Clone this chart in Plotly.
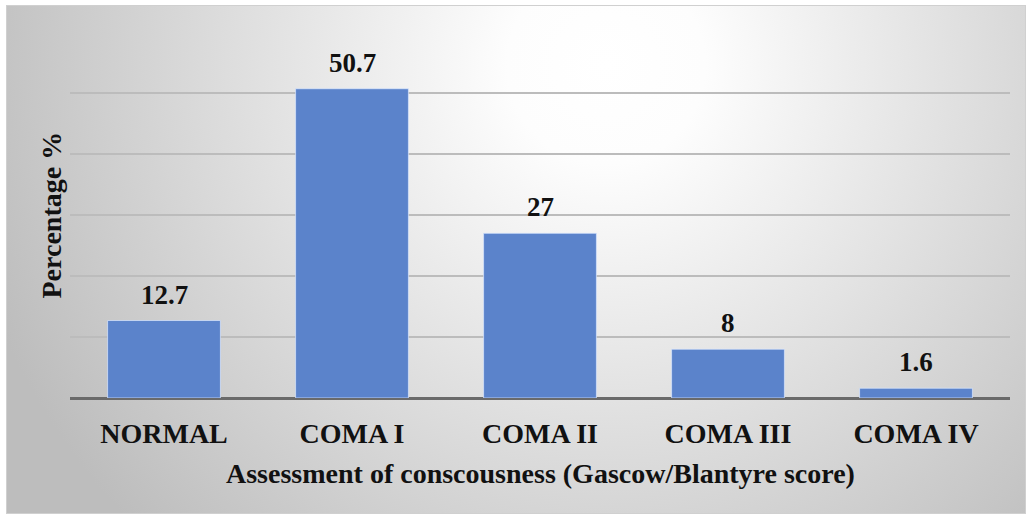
import base64
import plotly.graph_objects as go

categories = ["NORMAL", "COMA I", "COMA II", "COMA III", "COMA IV"]
percentages = [12.7, 50.7, 27, 8, 1.6]
value_labels = ["12.7", "50.7", "27", "8", "1.6"]
x_title = "Assessment of conscousness (Gascow/Blantyre score)"
y_title = "Percentage %"

FONT = "Liberation Serif, Times New Roman, serif"
BAR_COLOR = "#5b83cb"

svg = (
    '<svg xmlns="http://www.w3.org/2000/svg" width="1020" height="509" '
    'viewBox="0 0 1020 509" preserveAspectRatio="none">'
    '<defs><radialGradient id="g" gradientUnits="userSpaceOnUse" cx="600" cy="60" r="660">'
    '<stop offset="0" stop-color="#ffffff"/>'
    '<stop offset="0.15" stop-color="#fdfdfd"/>'
    '<stop offset="1" stop-color="#bdbdbd"/>'
    '</radialGradient></defs>'
    '<rect x="0" y="0" width="1020" height="509" fill="url(#g)"/>'
    '<rect x="0.5" y="0.5" width="1019" height="508" fill="none" stroke="#d0d0d0" stroke-width="1"/>'
    '</svg>'
)
svg_uri = "data:image/svg+xml;base64," + base64.b64encode(svg.encode()).decode()

fig = go.Figure()
fig.add_trace(go.Bar(
    x=categories,
    y=percentages,
    marker=dict(color=BAR_COLOR, line=dict(color="rgba(220,232,255,0.7)", width=1)),
    width=0.6,
    hoverinfo="skip",
))

for c, v, t in zip(categories, percentages, value_labels):
    fig.add_annotation(
        x=c, y=v, text=t, showarrow=False, xref="x", yref="y",
        yanchor="bottom", yshift=9,
        font=dict(family=FONT, size=27, color="#111111", weight="bold"),
    )

# plot area in pixels: x 70..1010, y 32..398
W, H = 1026, 514
L, R, T, B = 70, 16, 32, 116
pw, ph = W - L - R, H - T - B

fig.add_layout_image(
    source=svg_uri, xref="paper", yref="paper",
    x=(6 - L) / pw, y=(H - B - 5) / ph,
    sizex=(1026 - 6) / pw, sizey=(514 - 5) / ph,
    xanchor="left", yanchor="top", sizing="stretch", layer="below",
)

fig.add_annotation(
    text=y_title, xref="paper", yref="paper", x=0, y=0.5,
    xanchor="right", yanchor="middle", xshift=-2, textangle=-90, showarrow=False,
    font=dict(family=FONT, size=28, color="#111111", weight="bold"),
)
fig.add_annotation(
    text=x_title, xref="paper", yref="paper", x=0.5, y=0,
    xanchor="center", yanchor="middle", yshift=-75, showarrow=False,
    font=dict(family=FONT, size=28, color="#111111", weight="bold"),
)

fig.update_layout(
    width=W, height=H,
    margin=dict(l=L, r=R, t=T, b=B, pad=0),
    paper_bgcolor="white",
    plot_bgcolor="rgba(0,0,0,0)",
    showlegend=False,
    xaxis=dict(
        showgrid=False, showline=False, zeroline=False,
        ticks="outside", ticklen=10, tickcolor="rgba(0,0,0,0)",
        tickfont=dict(family=FONT, size=28, color="#111111", weight="bold"),
        fixedrange=True,
    ),
    yaxis=dict(
        range=[0, 60], dtick=10, showticklabels=False,
        showgrid=True, gridcolor="#bcbcbc", gridwidth=1.5,
        zeroline=True, zerolinecolor="#6a6a6a", zerolinewidth=2.5,
        showline=False, fixedrange=True,
    ),
)

fig.write_html("out.html")
